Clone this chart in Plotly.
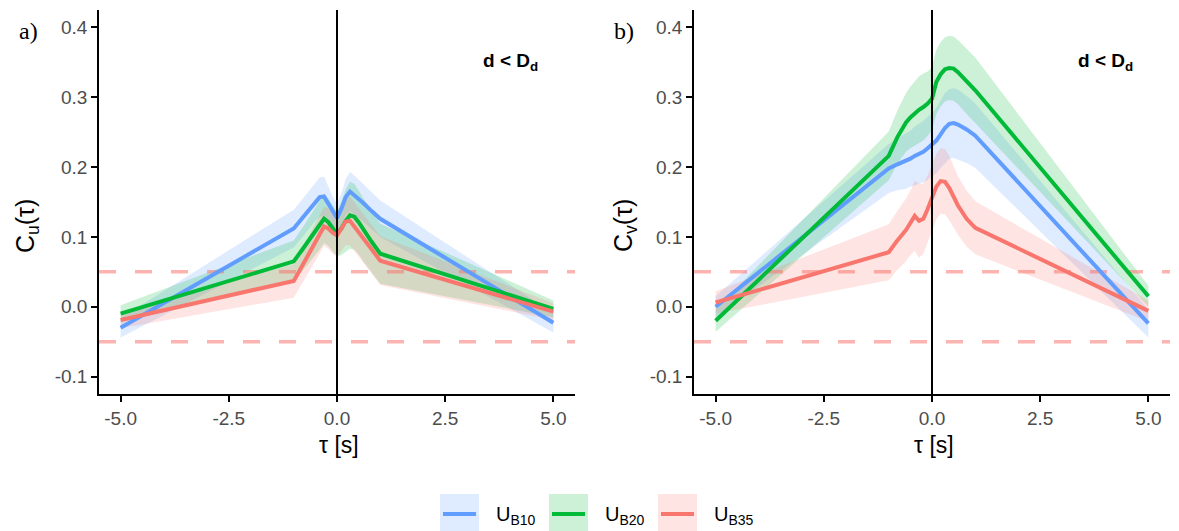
import plotly.graph_objects as go

# ---------------- data ----------------
tau = [-5, -1, -0.8, -0.6, -0.5, -0.4, -0.3, -0.2, -0.1, 0, 0.1, 0.2, 0.3, 0.4, 0.5, 0.6, 0.8, 1, 5]

series_names = ["B10", "B20", "B35"]

# panel a) C_u(tau)
cu_b10 = [-0.030, 0.112, 0.127, 0.143, 0.150, 0.157, 0.158, 0.147, 0.136, 0.127, 0.140, 0.157, 0.165, 0.160, 0.155, 0.149, 0.137, 0.126, -0.023]
cu_b20 = [-0.010, 0.065, 0.082, 0.099, 0.108, 0.117, 0.126, 0.121, 0.112, 0.104, 0.112, 0.123, 0.131, 0.129, 0.121, 0.111, 0.093, 0.076, -0.003]
cu_b35 = [-0.019, 0.037, 0.059, 0.082, 0.093, 0.104, 0.115, 0.112, 0.106, 0.102, 0.112, 0.122, 0.123, 0.115, 0.107, 0.098, 0.082, 0.066, -0.007]
cu_b10_hw = [0.014, 0.027, 0.027, 0.027, 0.027, 0.028, 0.028, 0.025, 0.022, 0.020, 0.022, 0.026, 0.028, 0.028, 0.027, 0.027, 0.026, 0.026, 0.014]
cu_b20_hw = [0.012, 0.030, 0.031, 0.033, 0.034, 0.035, 0.035, 0.034, 0.033, 0.032, 0.038, 0.045, 0.048, 0.047, 0.046, 0.045, 0.044, 0.043, 0.012]
cu_b35_hw = [0.012, 0.024, 0.025, 0.026, 0.027, 0.028, 0.028, 0.029, 0.030, 0.030, 0.032, 0.034, 0.035, 0.035, 0.035, 0.035, 0.035, 0.035, 0.012]

# panel b) C_v(tau)
cv_b10 = [0.000, 0.198, 0.204, 0.209, 0.212, 0.216, 0.219, 0.222, 0.227, 0.232, 0.238, 0.247, 0.256, 0.262, 0.263, 0.261, 0.254, 0.245, -0.024]
cv_b20 = [-0.020, 0.216, 0.243, 0.264, 0.271, 0.277, 0.282, 0.286, 0.291, 0.298, 0.322, 0.333, 0.340, 0.342, 0.341, 0.336, 0.323, 0.310, 0.015]
cv_b35 = [0.006, 0.078, 0.095, 0.110, 0.120, 0.130, 0.123, 0.126, 0.140, 0.157, 0.172, 0.180, 0.179, 0.170, 0.158, 0.145, 0.126, 0.113, -0.006]
cv_b10_hw = [0.015, 0.035, 0.037, 0.040, 0.040, 0.042, 0.043, 0.044, 0.045, 0.045, 0.047, 0.048, 0.050, 0.050, 0.050, 0.050, 0.048, 0.046, 0.020]
cv_b20_hw = [0.016, 0.035, 0.038, 0.042, 0.044, 0.046, 0.048, 0.048, 0.046, 0.045, 0.046, 0.046, 0.046, 0.046, 0.046, 0.046, 0.047, 0.047, 0.015]
cv_b35_hw = [0.016, 0.040, 0.042, 0.045, 0.046, 0.050, 0.053, 0.050, 0.048, 0.047, 0.047, 0.047, 0.047, 0.046, 0.044, 0.042, 0.040, 0.038, 0.015]

threshold = [0.05, -0.05]
x_ticks = [-5.0, -2.5, 0.0, 2.5, 5.0]
x_ticktext = ["-5.0", "-2.5", "0.0", "2.5", "5.0"]
y_ticks = [-0.1, 0.0, 0.1, 0.2, 0.3, 0.4]
y_ticktext = ["-0.1", "0.0", "0.1", "0.2", "0.3", "0.4"]

# ---------------- styling ----------------
OFF = 8  # page body margin of the html page
W, H = 1179 - OFF, 531 - OFF
PL, PR, PT, PB = 99, 1170, 10, 394  # plot area in page pixels
ML, MR, MT, MB = PL - OFF, (W + OFF) - PR, PT - OFF, (H + OFF) - PB
colors = {"B10": "#619CFF", "B20": "#00BA38", "B35": "#F8766D"}
fills = {"B10": "rgba(97,156,255,0.2)", "B20": "rgba(0,186,56,0.2)", "B35": "rgba(248,118,109,0.2)"}
FONT = "Liberation Sans, Arial, sans-serif"


def px(x):
    return (x - PL) / (PR - PL)


def py(y):
    return (PB - y) / (PB - PT)


fig = go.Figure()

panels = [
    ("x", "y", {"B10": (cu_b10, cu_b10_hw), "B20": (cu_b20, cu_b20_hw), "B35": (cu_b35, cu_b35_hw)}),
    ("x2", "y2", {"B10": (cv_b10, cv_b10_hw), "B20": (cv_b20, cv_b20_hw), "B35": (cv_b35, cv_b35_hw)}),
]

for xa, ya, data in panels:
    for name in series_names:
        vals, hw = data[name]
        lo = [v - h for v, h in zip(vals, hw)]
        hi = [v + h for v, h in zip(vals, hw)]
        fig.add_trace(go.Scatter(x=tau, y=lo, mode="lines", line=dict(width=0), xaxis=xa, yaxis=ya,
                                 showlegend=False, hoverinfo="skip"))
        fig.add_trace(go.Scatter(x=tau, y=hi, mode="lines", line=dict(width=0), fill="tonexty",
                                 fillcolor=fills[name], xaxis=xa, yaxis=ya, showlegend=False, hoverinfo="skip"))
    for t in threshold:
        fig.add_trace(go.Scatter(x=[-5.5, 5.5], y=[t, t], mode="lines",
                                 line=dict(color="rgba(248,118,109,0.55)", width=3.5, dash="17px,19px"),
                                 xaxis=xa, yaxis=ya, showlegend=False, hoverinfo="skip"))
    for name in series_names:
        vals, hw = data[name]
        fig.add_trace(go.Scatter(x=tau, y=vals, mode="lines", line=dict(color=colors[name], width=4),
                                 xaxis=xa, yaxis=ya, showlegend=False))
    fig.add_trace(go.Scatter(x=[0, 0], y=[-0.125, 0.425], mode="lines", line=dict(color="black", width=2),
                             xaxis=xa, yaxis=ya, showlegend=False, hoverinfo="skip"))

axis_common = dict(showgrid=False, zeroline=False, showline=True, linecolor="black", linewidth=1.5,
                   ticks="outside", ticklen=6, tickwidth=1.5, tickcolor="black",
                   tickfont=dict(family=FONT, size=19, color="#4D4D4D"))

fig.update_layout(
    width=W, height=H,
    margin=dict(l=ML, r=MR, t=MT, b=MB),
    plot_bgcolor="white", paper_bgcolor="white",
    showlegend=False,
    xaxis=dict(domain=[0, px(575)], range=[-5.5, 5.5], tickvals=x_ticks, ticktext=x_ticktext, anchor="y", **axis_common),
    yaxis=dict(domain=[0, 1], range=[-0.125, 0.425], tickvals=y_ticks, ticktext=y_ticktext, anchor="x", **axis_common),
    xaxis2=dict(domain=[px(694), 1], range=[-5.5, 5.5], tickvals=x_ticks, ticktext=x_ticktext, anchor="y2", **axis_common),
    yaxis2=dict(domain=[0, 1], range=[-0.125, 0.425], tickvals=y_ticks, ticktext=y_ticktext, anchor="x2", **axis_common),
)

ann = []
for cx, txt in [(339, "τ [s]"), (934, "τ [s]")]:
    ann.append(dict(x=px(cx), y=py(445), xref="paper", yref="paper", text=txt, showarrow=False,
                    font=dict(family=FONT, size=23, color="black"), xanchor="center", yanchor="middle"))
for cx, txt in [(27, "C<sub>u</sub>(τ)"), (625, "C<sub>v</sub>(τ)")]:
    ann.append(dict(x=px(cx), y=py(226), xref="paper", yref="paper", text=txt, showarrow=False, textangle=-90,
                    font=dict(family=FONT, size=25, color="black"), xanchor="center", yanchor="middle"))
for cx, txt in [(28, "a)"), (624, "b)")]:
    ann.append(dict(x=px(cx), y=py(31), xref="paper", yref="paper", text=txt, showarrow=False,
                    font=dict(family="Liberation Serif, Times New Roman, serif", size=24, color="black"),
                    xanchor="center", yanchor="middle"))
for xa, ya in [("x", "y"), ("x2", "y2")]:
    ann.append(dict(x=4.0, y=0.35, xref=xa, yref=ya, text="<b>d &lt; D<sub>d</sub></b>", showarrow=False,
                    font=dict(family=FONT, size=19, color="black"), xanchor="center", yanchor="middle"))

shapes = []
key_left = [440, 549, 658]
for i, name in enumerate(series_names):
    x0 = key_left[i]
    shapes.append(dict(type="rect", xref="paper", yref="paper", x0=px(x0), x1=px(x0 + 39), y0=py(494), y1=py(533),
                       fillcolor=fills[name], line=dict(width=0), layer="above"))
    shapes.append(dict(type="line", xref="paper", yref="paper", x0=px(x0 + 3), x1=px(x0 + 36), y0=py(514), y1=py(514),
                       line=dict(color=colors[name], width=4), layer="above"))
    ann.append(dict(x=px(x0 + 54), y=py(515), xref="paper", yref="paper", text="U<sub>" + name + "</sub>",
                    showarrow=False, font=dict(family=FONT, size=20, color="black"), xanchor="left", yanchor="middle"))

fig.update_layout(annotations=ann, shapes=shapes)

fig.write_html("out.html")
